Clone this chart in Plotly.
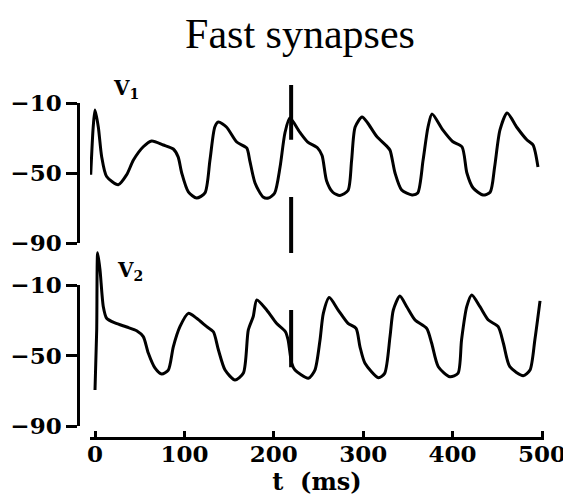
import plotly.graph_objects as go

# ---- data ----
v1_t = [-4.8, -2, 0, 3.7, 7.5, 13, 26, 35.4, 43, 54, 63.4, 76.4, 87.6, 93, 97, 104.4, 113.7, 123,
        128.6, 134, 138, 147, 158.5, 169.7, 173, 179, 188, 194, 201, 207, 212.5, 218, 229, 238,
        249, 254, 259, 266, 274, 283, 287, 291, 298.7, 305, 315, 326, 330, 335.6, 343, 354.6,
        361, 367, 372.5, 377, 389, 400, 410.5, 416, 423, 434, 442, 447, 453, 461, 472, 483, 490,
        495.5]
v1_v = [-51, -23.7, -14, -23.7, -40.8, -52, -56.7, -51, -42.6, -35, -31.7, -34, -36.3, -40.8,
        -50, -60.8, -64.3, -61.4, -42.6, -23.7, -20.9, -23.7, -32.3, -35.7, -42.6, -55.7, -63.7,
        -64.3, -61.4, -46.6, -27, -18.6, -26.6, -32.3, -35.7, -40, -54.4, -61, -62.8, -60, -43,
        -23.7, -18, -21.4, -29, -34.5, -37, -50, -59.7, -62.5, -61.4, -42.6, -23.7, -16.3, -25.4,
        -32, -35, -50, -58.6, -62.6, -61, -46.6, -25.4, -15.7, -24, -31, -34, -46.6]

v2_t = [0, 1.9, 3, 5.6, 9.3, 13, 22.4, 35.5, 46.6, 54, 59.6, 67, 74.6, 82, 87.6, 95, 104.4,
        113.7, 125, 132.4, 138, 145.5, 156.6, 166, 171.5, 177, 181, 192, 203, 213, 216, 220,
        223.7, 238.6, 246, 251.7, 255.4, 262, 272, 283, 292, 296.4, 302, 317, 324, 330, 333.7,
        341, 348.7, 358, 371, 376.6, 384, 397, 406, 410, 415.8, 421.4, 430.6, 440, 451, 456.8,
        464, 479, 486.6, 492, 497.8]
v2_v = [-70, -35.7, 8.5, -1.4, -22.4, -29, -31.7, -34, -36.1, -39.5, -48.9, -57.4, -60.9, -58.6,
        -45.3, -33.8, -26.2, -29, -33.8, -36.7, -47, -58.6, -64.3, -60.3, -35.7, -28, -18.6,
        -24.3, -31.9, -36.7, -41.4, -54.7, -58.6, -63.3, -58.6, -41.4, -26.2, -17.2, -24.3,
        -31.9, -34.8, -45.3, -54.7, -63, -60.5, -39.5, -24.3, -16.3, -22.4, -30, -34.8, -43.3,
        -56.7, -62.4, -60.5, -41.4, -22.4, -15.7, -22.4, -30, -33.8, -43.3, -56.7, -61.8, -58.6,
        -41.4, -19.1]

# stimulus marker (time, and value spans in each panel)
marker_t = 219.4
marker_top_spans = [[0.3, -31], [-63.7, -95.7]]
marker_bot_spans = [[-24.3, -57]]

y_tickvals = [-90, -50, -10]
y_ticktext = ["\u221290", "\u221250", "\u221210"]
x_tickvals = [0, 100, 200, 300, 400, 500]
x_ticktext = ["0", "100", "200", "300", "400", "500"]

# ---- layout geometry (page pixels; the page body adds an 8px offset) ----
OFF = 8
W, H = 571 - OFF, 498 - OFF
P_LEFT, P_RIGHT, P_TOP, P_BOT = 78, 544, 70, 437  # paper box in page pixels
ml, mr, mt, mb = P_LEFT - OFF, W - (P_RIGHT - OFF), P_TOP - OFF, H - (P_BOT - OFF)


def frac(py):
    return (P_BOT - py) / (P_BOT - P_TOP)


def xfrac(px):
    return (px - P_LEFT) / (P_RIGHT - P_LEFT)


X0_PX, PX_PER_MS = 95, 0.894
PLOT_LEFT = 90

fig = go.Figure()
LW = 3
fig.add_trace(go.Scatter(x=v1_t, y=v1_v, mode="lines", line=dict(color="black", width=LW, shape="spline", smoothing=0.7),
                         xaxis="x", yaxis="y", showlegend=False, hoverinfo="skip"))
fig.add_trace(go.Scatter(x=v2_t, y=v2_v, mode="lines", line=dict(color="black", width=LW, shape="spline", smoothing=0.7),
                         xaxis="x", yaxis="y2", showlegend=False, hoverinfo="skip"))
for span in marker_top_spans:
    fig.add_trace(go.Scatter(x=[marker_t, marker_t], y=span, mode="lines", line=dict(color="black", width=4),
                             xaxis="x", yaxis="y", showlegend=False, hoverinfo="skip"))
for span in marker_bot_spans:
    fig.add_trace(go.Scatter(x=[marker_t, marker_t], y=span, mode="lines", line=dict(color="black", width=4),
                             xaxis="x", yaxis="y2", showlegend=False, hoverinfo="skip"))
# display axes (dummy traces so the axes are drawn)
fig.add_trace(go.Scatter(x=[None], y=[None], xaxis="x", yaxis="y3", showlegend=False, hoverinfo="skip"))
fig.add_trace(go.Scatter(x=[None], y=[None], xaxis="x", yaxis="y4", showlegend=False, hoverinfo="skip"))

tickfont = dict(family="DejaVu Serif", size=23, color="black", weight="bold")
hidden = dict(visible=False, showgrid=False, zeroline=False, fixedrange=True, automargin=False)

scale = 1.75  # px per mV
top_px = (75, 255)
bot_px = (245, P_BOT)
yshow = dict(anchor="free", position=0, range=[-90, -10],
             showgrid=False, zeroline=False, showline=True, linecolor="black", linewidth=2.5,
             ticks="outside", ticklen=11, tickwidth=2.5, tickcolor="black",
             tickvals=y_tickvals, ticktext=y_ticktext, tickfont=tickfont, fixedrange=True, automargin=False)
fig.update_layout(
    width=W, height=H,
    margin=dict(l=ml, r=mr, t=mt, b=mb, pad=0, autoexpand=False),
    plot_bgcolor="rgba(0,0,0,0)", paper_bgcolor="white",
    title=dict(text="Fast synapses", x=(300 - OFF) / W, xref="container", y=1 - (33 - OFF) / H, yref="container",
               xanchor="center", yanchor="middle",
               font=dict(family="Liberation Serif", size=42, color="black")),
    xaxis=dict(domain=[xfrac(PLOT_LEFT), 1],
               range=[(PLOT_LEFT - X0_PX) / PX_PER_MS, (P_RIGHT - X0_PX) / PX_PER_MS],
               anchor="y2", showgrid=False, zeroline=False, showline=True, linecolor="black", linewidth=2.5,
               ticks="inside", ticklen=6, tickwidth=2.5, tickcolor="black", automargin=False,
               tickvals=x_tickvals, ticktext=x_ticktext, ticklabelstandoff=-5,
               tickfont=dict(family="DejaVu Serif", size=23, color="black", weight="bold"),
               title=dict(text="t\u00a0\u00a0(ms)", standoff=6,
                          font=dict(family="DejaVu Serif", size=24, color="black", weight="bold"))),
    yaxis=dict(domain=[frac(top_px[1]), frac(top_px[0])],
               range=[-10 - (top_px[1] - 103) / scale, -10 + (103 - top_px[0]) / scale], **hidden),
    yaxis2=dict(domain=[frac(bot_px[1]), frac(bot_px[0])],
                range=[-10 - (bot_px[1] - 285) / scale, -10 + (285 - bot_px[0]) / scale], **hidden),
    yaxis3=dict(domain=[frac(243), frac(103)], **yshow),
    yaxis4=dict(domain=[frac(426), frac(285)], **yshow),
)

labfont = dict(family="DejaVu Serif", size=20, color="black", weight="bold")
fig.add_annotation(text="V<sub>1</sub>", x=xfrac(126), y=frac(89), xref="paper", yref="paper",
                   showarrow=False, font=labfont, xanchor="center", yanchor="middle")
fig.add_annotation(text="V<sub>2</sub>", x=xfrac(130), y=frac(271), xref="paper", yref="paper",
                   showarrow=False, font=labfont, xanchor="center", yanchor="middle")

fig.write_html("out.html")
